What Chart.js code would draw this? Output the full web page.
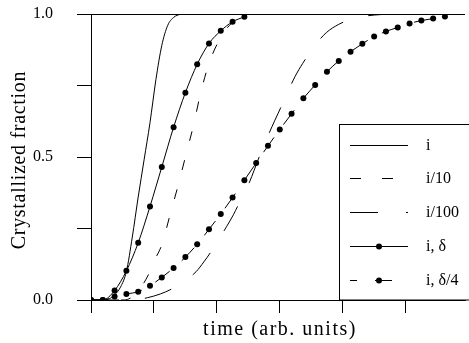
<!DOCTYPE html>
<html><head><meta charset="utf-8">
<script src="https://cdn.jsdelivr.net/npm/chart.js@4/dist/chart.umd.min.js"></script>
<style>html,body{margin:0;padding:0;background:#fff}</style>
</head><body>
<canvas id="c" width="469" height="343"></canvas>
<script>
// ---- data (time in marker steps, fraction 0..1) ----
const seriesNames = ['i', 'i/10', 'i/100', 'i, δ', 'i, δ/4'];
const xTickPositions = [0, 16/3, 32/3, 16, 64/3, 80/3];
const yTickLabels = ['0.0', '', '0.5', '', '1.0'];

const stepTimes = [0,1,2,3,4,5,6,7,8,9,10,11,12,13,14,15,16,17,18,19,20,21,22,23,24,25,26,27,28,29,30];

const iTimes = [0, 1.0, 1.5, 2.0, 2.5, 3.0, 3.5, 4.0, 4.5, 5.0, 5.5, 6.0, 6.5, 7.0, 7.6];
const iFrac  = [0, 0, 0.003, 0.018, 0.045, 0.10, 0.22, 0.36, 0.49, 0.62, 0.77, 0.89, 0.96, 0.988, 1.0];

const i10Times = [0, 2.8, 3.6, 4.2, 4.86, 5.4, 6.0, 6.7, 7.4, 8.05, 8.7, 9.26, 10.0, 11.0, 11.9, 12.9, 13.9];
const i10Frac  = [0, 0, 0.014, 0.042, 0.088, 0.14, 0.193, 0.298, 0.403, 0.508, 0.613, 0.718, 0.827, 0.918, 0.967, 0.988, 1.0];

const i100Times = [0, 3.6, 4.78, 5.87, 6.96, 7.96, 8.91, 9.56, 10.18, 10.81, 11.48, 12.07, 12.57, 13.41, 14.33, 15.34, 15.84, 16.35, 17.29, 17.94, 18.55, 19.11, 19.95, 20.96, 22.05, 23.3, 24.56, 26.0];
const i100Frac  = [0, 0, 0.008, 0.021, 0.041, 0.067, 0.099, 0.133, 0.169, 0.210, 0.256, 0.298, 0.340, 0.410, 0.508, 0.606, 0.651, 0.697, 0.781, 0.827, 0.865, 0.897, 0.935, 0.963, 0.982, 0.993, 0.998, 1.0];

const iDeltaFrac  = [0, 0, 0.033, 0.102, 0.20, 0.327, 0.465, 0.604, 0.725, 0.824, 0.897, 0.941, 0.973, 0.990];
const iDelta4Frac = [0, 0, 0.012, 0.021, 0.029, 0.050, 0.079, 0.112, 0.150, 0.195, 0.247, 0.301, 0.358, 0.419, 0.479, 0.539, 0.596, 0.651, 0.705, 0.752, 0.798, 0.836, 0.868, 0.896, 0.921, 0.939, 0.953, 0.967, 0.977, 0.984, 0.991];

// ---- helpers ----
const pts = (xs, ys) => ys.map((y, k) => ({x: xs[k], y}));
const SERIF = 'Liberation Serif, Times New Roman, serif';

const legendStyles = [
  {dash: [], offset: 0, marker: false},
  {dash: [11, 21], offset: 0, marker: false},
  {dash: [28, 28], offset: 0, marker: false},
  {dash: [], offset: 0, marker: true},
  {dash: [17, 18], offset: 10, marker: true}
];

const boxLegend = {
  id: 'boxLegend',
  afterDraw(chart) {
    const ctx = chart.ctx;
    ctx.save();
    ctx.fillStyle = '#fff';
    ctx.fillRect(339.5, 124.5, 140, 175);
    ctx.strokeStyle = '#000';
    ctx.lineWidth = 1;
    ctx.strokeRect(339.5, 124.5, 140, 175.5);
    const rows = [145, 178, 212, 246, 280];
    seriesNames.forEach((name, r) => {
      const y = rows[r] + 0.5;
      const st = legendStyles[r];
      ctx.setLineDash(st.dash);
      ctx.lineDashOffset = st.offset;
      ctx.beginPath();
      ctx.moveTo(350, y);
      ctx.lineTo(408, y);
      ctx.stroke();
      ctx.setLineDash([]);
      if (st.marker) {
        ctx.beginPath();
        ctx.arc(379, y, 3, 0, Math.PI * 2);
        ctx.fillStyle = '#000';
        ctx.fill();
      }
      ctx.fillStyle = '#000';
      ctx.font = '16px ' + SERIF;
      ctx.textAlign = 'left';
      ctx.textBaseline = 'middle';
      ctx.fillText(name, 426, y);
    });
    ctx.restore();
  }
};

const titleTweaks = {x: {spacing: '1.5px', dx: 2, dy: 0}, y: {spacing: '0.7px', dx: 0, dy: 3}};
const spacedTitles = {
  id: 'spacedTitles',
  beforeDraw(chart) {
    ['x', 'y'].forEach(id => {
      const s = chart.scales[id];
      if (s && !s._spaced) {
        const orig = s.drawTitle;
        const t = titleTweaks[id];
        s.drawTitle = function () {
          this.ctx.save();
          this.ctx.letterSpacing = t.spacing;
          this.ctx.translate(t.dx, t.dy);
          orig.apply(this, arguments);
          this.ctx.restore();
        };
        s._spaced = true;
      }
    });
  }
};

const common = {borderColor: '#000', backgroundColor: '#000', borderWidth: 1, cubicInterpolationMode: 'monotone', fill: false};

new Chart(document.getElementById('c'), {
  type: 'line',
  data: {
    datasets: [
      Object.assign({label: seriesNames[0], data: pts(iTimes, iFrac), pointRadius: 0}, common),
      Object.assign({label: seriesNames[1], data: pts(i10Times, i10Frac), pointRadius: 0, borderDash: [10, 20]}, common),
      Object.assign({label: seriesNames[2], data: pts(i100Times, i100Frac), pointRadius: 0, borderDash: [28, 26]}, common),
      Object.assign({label: seriesNames[3], data: pts(stepTimes, iDeltaFrac), pointRadius: 3, pointBorderWidth: 0}, common),
      Object.assign({label: seriesNames[4], data: pts(stepTimes, iDelta4Frac), pointRadius: 3, pointBorderWidth: 0, borderDash: [18, 16]}, common)
    ]
  },
  options: {
    responsive: false,
    devicePixelRatio: 1,
    animation: false,
    layout: {padding: {top: 14, right: 0, bottom: 0, left: 0}},
    plugins: {legend: {display: false}, tooltip: {enabled: false}},
    scales: {
      x: {
        type: 'linear', min: 0, max: 31.7,
        afterFit(s) { s.height = 43; s.paddingLeft = 0; s.paddingRight = 0; },
        afterBuildTicks(s) { s.ticks = xTickPositions.map(v => ({value: v})); },
        ticks: {autoSkip: false, callback: () => '', font: {family: SERIF, size: 16}},
        grid: {drawOnChartArea: false, tickLength: 13, tickColor: '#000', color: '#000'},
        border: {color: '#000', width: 1},
        title: {display: true, text: 'time (arb. units)', color: '#000', font: {family: SERIF, size: 20}, padding: {top: 0, bottom: 1}}
      },
      y: {
        type: 'linear', min: 0, max: 1,
        afterFit(s) { s.width = 91; s.paddingTop = 0; s.paddingBottom = 0; },
        ticks: {stepSize: 0.25, padding: 24, color: '#000', font: {family: SERIF, size: 16},
          callback: v => yTickLabels[Math.round(v * 4)] || ''},
        grid: {
          color: c => (c.tick && (c.tick.value === 0 || c.tick.value === 1)) ? '#000' : 'rgba(0,0,0,0)',
          tickColor: '#000', tickLength: 14
        },
        border: {color: '#000', width: 1},
        title: {display: true, text: 'Crystallized fraction', color: '#000', font: {family: SERIF, size: 20}, padding: {top: 8, bottom: 0}}
      }
    }
  },
  plugins: [spacedTitles, boxLegend]
});
</script>
</body></html>
